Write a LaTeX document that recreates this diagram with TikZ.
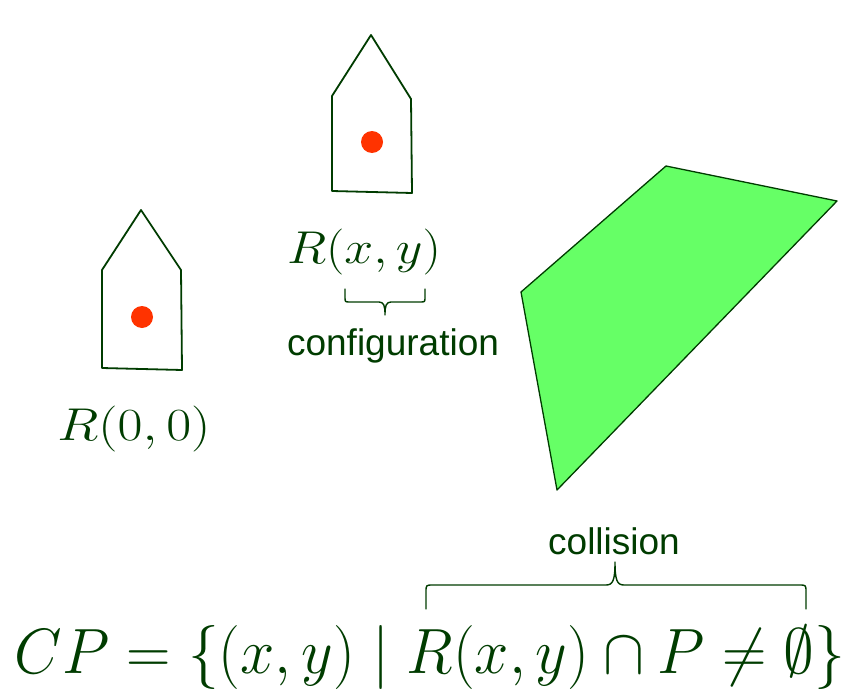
\RequirePackage{fix-cm}
\documentclass[tikz,border=0pt]{standalone}
\usepackage{amssymb}
\usepackage{graphicx}
\usepackage{fontspec}
\newfontfamily\labelfont{Liberation Sans}
\usetikzlibrary{positioning}
\definecolor{ink}{RGB}{0,60,0}
\definecolor{refred}{RGB}{255,51,0}
\definecolor{obstacle}{RGB}{102,255,102}
% stretch a label to a given width, keep its height
\newcommand{\fitw}[2]{\resizebox{#1}{\height}{#2}}
\tikzset{plan/.style={
  x=1pt,y=-1pt,
  line join=round,line cap=round
}}
\tikzset{
  robot/.style={draw=ink,line width=1.8pt,fill=white},
  refpt/.style={fill=refred},
  brace/.style={draw=ink,line width=1.4pt},
  mathlabel/.style={text=ink,inner sep=0pt,anchor=base},
  textlabel/.style={text=ink,inner sep=0pt,anchor=base,
    font=\labelfont\fontsize{37}{42}\selectfont}
}

\begin{document}
\begin{tikzpicture}[plan]
  \useasboundingbox (0,0) rectangle (850,690);

  % robot at the origin
  \draw[robot] (102,368) -- (102,270) -- (141,210) -- (181,270) -- (182,370) -- cycle;
  \fill[refpt] (142,317) circle (11pt);
  \node[mathlabel] (origin) at (134,440)
    {\fitw{153pt}{\fontsize{46}{52}\selectfont$R(0,0)$}};

  % robot at some configuration
  \draw[robot] (332,191) -- (332,96) -- (371,35) -- (411,99) -- (412,193) -- cycle;
  \fill[refpt] (372,142) circle (11pt);
  \node[mathlabel] (placed) at (364,263)
    {\fitw{154pt}{\fontsize{46}{52}\selectfont$R(x,y)$}};

  \draw[brace] (345,289) -- (345,297) .. controls (345,302) .. (350,302)
    -- (379,302) .. controls (384,302) and (385,306) .. (385,315)
    .. controls (385,306) and (386,302) .. (391,302)
    -- (420,302) .. controls (425,302) .. (425,297) -- (425,289);
  \node[textlabel] (config) at (393,355) {configuration};

  % obstacle
  \draw[draw=ink,line width=1.3pt,fill=obstacle]
    (666,166) -- (837,201) -- (557,490) -- (521,292) -- cycle;

  % collision set
  \node[textlabel] (collide) at (614,554) {collision};
  \draw[brace] (426,609) -- (426,592) .. controls (426,585) .. (433,585)
    -- (606,585) .. controls (613,585) and (615,580) .. (615,562)
    .. controls (615,580) and (617,585) .. (624,585)
    -- (799,585) .. controls (806,585) .. (806,592) -- (806,609);
  \node[mathlabel] (cspace) at (430,673)
    {\fitw{830pt}{\fontsize{64}{70}\selectfont$CP=\{(x,y)\mid R(x,y)\cap P\neq\emptyset\}$}};
\end{tikzpicture}
\end{document}
